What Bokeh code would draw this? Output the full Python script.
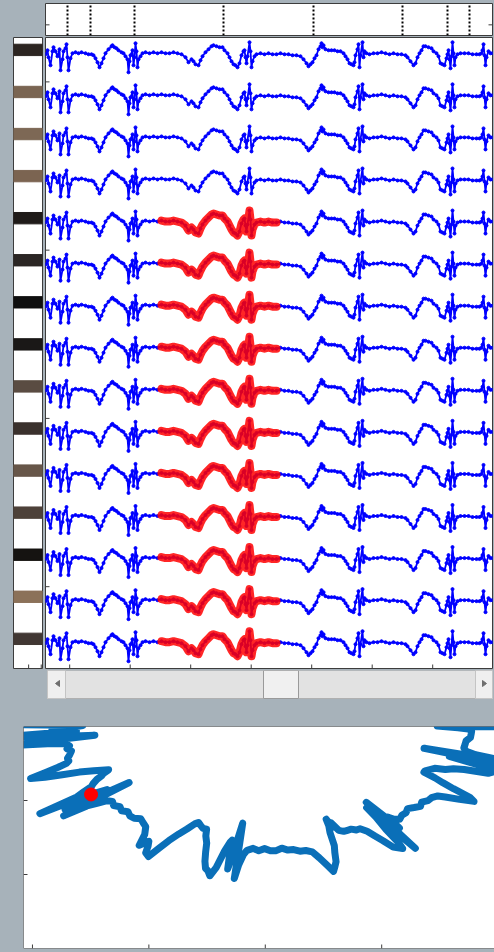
import numpy as np
from bokeh.plotting import figure
from bokeh.layouts import column, row
from bokeh.models import Range1d, Span
from bokeh.embed import file_html
from bokeh.resources import INLINE

# ---------------- data ----------------
# one recorded segment (sample index at fs, amplitude in a.u.)
sample_idx = [0, 2, 3, 5, 7, 8, 10, 12, 14, 15,
              17, 18, 20, 21, 22, 23, 25, 27, 30, 33,
              36, 40, 43, 46, 48, 50, 52, 54, 56, 58,
              60, 63, 66, 67, 69, 71, 73, 76, 78, 80,
              82, 83, 84, 85, 87, 88, 89, 90, 91, 92,
              93, 95, 97, 100, 104, 108, 112, 116, 120, 124,
              128, 132, 136, 140, 143, 146, 148, 150, 153, 155,
              157, 160, 163, 166, 168, 171, 174, 177, 179, 182,
              184, 186, 188, 190, 192, 194, 196, 198, 199, 200,
              201, 202, 204, 205, 206, 207, 209, 211, 215, 219,
              223, 227, 231, 235, 239, 243, 247, 251, 255, 258,
              261, 263, 265, 267, 269, 271, 273, 275, 276, 277,
              278, 280, 283, 286, 289, 292, 295, 298, 300, 302,
              304, 306, 308, 309, 310, 312, 313, 314, 315, 317,
              318, 319, 321, 324, 328, 332, 336, 340, 344, 348,
              352, 356, 360, 362, 365, 368, 370, 372, 374, 376,
              378, 380, 383, 386, 388, 391, 393, 395, 397, 399,
              401, 402, 403, 404, 405, 406, 407, 408, 409, 410,
              412, 415, 419, 423, 427, 431, 434, 436, 437, 438,
              439, 440, 441, 443, 445, 447]
amplitude = [-1, 3, -4, -12, 2, 6, 2, -3, 4, -17,
             -6, 2, 5, 9, -4, -17, -5, 0, 1, 0,
             1, 0, -1, -1, -2, -5, -9, -14, -10, -5,
             0, 4, 7, 8, 6, 5, 3, 1, 0, -3,
             -6, -19, -8, -2, 3, -12, -4, 10, 2, -14,
             -6, -3, 0, 1, 0, 1, 0, 1, 0, 0,
             1, 0, -1, -4, -9, -6, -8, -11, -12, -7,
             -3, 1, 4, 7, 8, 7, 6, 6, 3, 0,
             -4, -8, -11, -12, -14, -10, -2, 2, 3, -4,
             -10, -3, 11, 2, -14, -8, -3, -1, 0, -1,
             0, -1, -1, 0, -1, -1, -2, -2, -3, -6,
             -10, -13, -11, -9, -5, -2, 4, 7, 10, 6,
             8, 4, 3, 3, 3, 2, 2, 0, -3, -6,
             -10, -11, -12, -9, -2, 4, 9, -14, -2, 11,
             -4, 2, 0, -1, 0, 0, 1, 0, -1, 0,
             -1, -1, -2, -4, -8, -12, -10, -4, 0, 3,
             7, 7, 6, 5, 2, 0, -3, -10, -11, -12,
             -5, -1, 3, -6, -15, -3, 11, 0, -12, -4,
             -1, 0, 0, 0, -1, -1, -1, 0, 3, 9,
             -2, -12, -4, 2, 0, 0]

fs = 121.0            # samples per second
t_start = 0.3         # seconds
n_rows = 15
row_colors = ["#2c2521", "#7a6552", "#7d6855", "#7b6451", "#1f1b19",
              "#2b2624", "#0f0f0f", "#1a1817", "#5a4c42", "#3a312d",
              "#675649", "#4d4139", "#151311", "#8b7159", "#413733"]
highlight_rows = [5, 6, 7, 8, 9, 10, 11, 12, 13, 14, 15]
highlight_span = (115, 232)       # sample range of the selected event
event_samples = [22, 45, 89, 178, 268, 357, 402, 424]
cursor_time = 1.0                 # seconds
time_ticks = [0.5, 1.0, 1.5, 2.0, 2.5, 3.0, 3.5]
row_ticks = [2.32, 6.32, 10.32, 14.32]
strip_ticks = [0.5, 1.0]
polar_x_ticks = [0, 1, 2, 3]
polar_y_ticks = [1, 2]

GRAY = "#a7b2ba"
BOX = "#3c3c3c"
TICK = 4  # px

t = t_start + np.array(sample_idx) / fs
a = np.array(amplitude, dtype=float)
t_end = t_start + 447 / fs
gain = 1 / 42.0
baselines = [n_rows + 1 - i for i in range(1, n_rows + 1)]
y_rng = (0.375, 15.375)
FRAME = {}


def base_fig(w, h, xr, yr, l, r, tp, b, outline=True):
    p = figure(width=w, height=h, x_range=Range1d(*xr), y_range=Range1d(*yr),
               toolbar_location=None, output_backend="svg",
               x_axis_location=None, y_axis_location=None,
               min_border_left=l, min_border_right=r, min_border_top=tp,
               min_border_bottom=b, border_fill_color=GRAY,
               background_fill_color="white",
               outline_line_color=BOX if outline else None)
    p.grid.visible = False
    FRAME[p.id] = (w - l - r, h - tp - b)
    return p


def xticks(p, xs, at_bottom=True):
    yr = p.y_range
    span = (yr.end - yr.start) / FRAME[p.id][1] * TICK / 2
    y0 = yr.start + span if at_bottom else yr.end - span
    p.scatter(xs, [y0] * len(xs), marker="dash", angle=np.pi / 2, size=TICK,
              line_color=BOX, line_width=1)


def yticks(p, ys, at_left=True):
    xr = p.x_range
    span = (xr.end - xr.start) / FRAME[p.id][0] * TICK / 2
    x0 = xr.start + span if at_left else xr.end - span
    p.scatter([x0] * len(ys), ys, marker="dash", size=TICK,
              line_color=BOX, line_width=1)


# ---------------- top event panel ----------------
top = base_fig(494, 36, (t_start, t_end), (0, 3), 45, 2, 3, 1)
ev_t = [t_start + s / fs for s in event_samples]
top.segment(x0=ev_t, y0=[0] * len(ev_t), x1=ev_t, y1=[3] * len(ev_t),
            line_color="black", line_width=2, line_dash="2 2")
yticks(top, [1], True)
yticks(top, [1], False)

# ---------------- left colour strip ----------------
strip_x = (-0.1, 1.05)
strip = base_fig(44, 634, strip_x, y_rng, 13, 2, 1, 1)
strip.hbar(y=[b + 0.08 for b in baselines], height=0.27, left=strip_x[0],
           right=strip_x[1], color=row_colors)
xticks(strip, strip_ticks)

# ---------------- main multi-row traces ----------------
main = base_fig(450, 634, (t_start, t_end), y_rng, 1, 2, 1, 2)
for b in baselines:
    y = b + a * gain
    main.line(t, y, line_color="#0000ff", line_width=1.8)
    main.scatter(t, y, size=3, color="#0000ff")
idx = np.array(sample_idx)
m = (idx >= highlight_span[0]) & (idx <= highlight_span[1])
for i in highlight_rows:
    b = baselines[i - 1]
    main.line(t[m], b + a[m] * gain, line_color="#ff0000", line_width=8,
              line_alpha=0.85, line_cap="round", line_join="round")
xticks(main, time_ticks)
yticks(main, row_ticks)

# ---------------- scrollbar (drawn) ----------------
sb = figure(width=494, height=40, x_range=Range1d(0, 494), y_range=Range1d(40, 0),
            toolbar_location=None, output_backend="svg",
            x_axis_location=None, y_axis_location=None,
            min_border_left=0, min_border_right=0, min_border_top=0,
            min_border_bottom=0, border_fill_color=GRAY,
            background_fill_color=GRAY, outline_line_color=None)
sb.grid.visible = False
sb.quad(left=47, right=492, top=0, bottom=28, fill_color="#e2e2e2",
        line_color="#b0b0b0")
sb.quad(left=47, right=65, top=0, bottom=28, fill_color="#efefef",
        line_color="#c4c4c4")
sb.quad(left=475, right=492, top=0, bottom=28, fill_color="#efefef",
        line_color="#c4c4c4")
sb.quad(left=263, right=298, top=0, bottom=28, fill_color="#f0f0f0",
        line_color="#9a9a9a")
sb.patch([59, 59, 55], [10, 16, 13], color="#6e6e6e")
sb.patch([482, 482, 486], [10, 16, 13], color="#6e6e6e")

# ---------------- bottom polar view ----------------
theta = np.pi + np.pi * (t - t_start) / (t_end - t_start)
r = 1.75 - 0.03 * a
px = 2.0 + r * np.cos(theta)
py = 3.1 + r * np.sin(theta)
k = int(np.argmin(np.abs(t - cursor_time)))

bx = (-0.077, 3.969)
bot = base_fig(494, 242, bx, (0, 3), 23, 0, 16, 4, outline=False)
bot.line(px, py, line_color="#0a6fb8", line_width=7, line_join="round")
bot.scatter([px[k]], [py[k]], size=13, color="#ff0000")
xticks(bot, polar_x_ticks)
yticks(bot, polar_y_ticks)
for loc, dim in ((0, "width"), (3, "width"), (bx[0], "height")):
    bot.add_layout(Span(location=loc, dimension=dim, line_color=BOX, line_width=1))

layout = column(row(top), row(strip, main, spacing=0), row(sb), row(bot),
                spacing=0, styles={"background-color": GRAY})
open("out.html", "w").write(file_html(layout, INLINE))
